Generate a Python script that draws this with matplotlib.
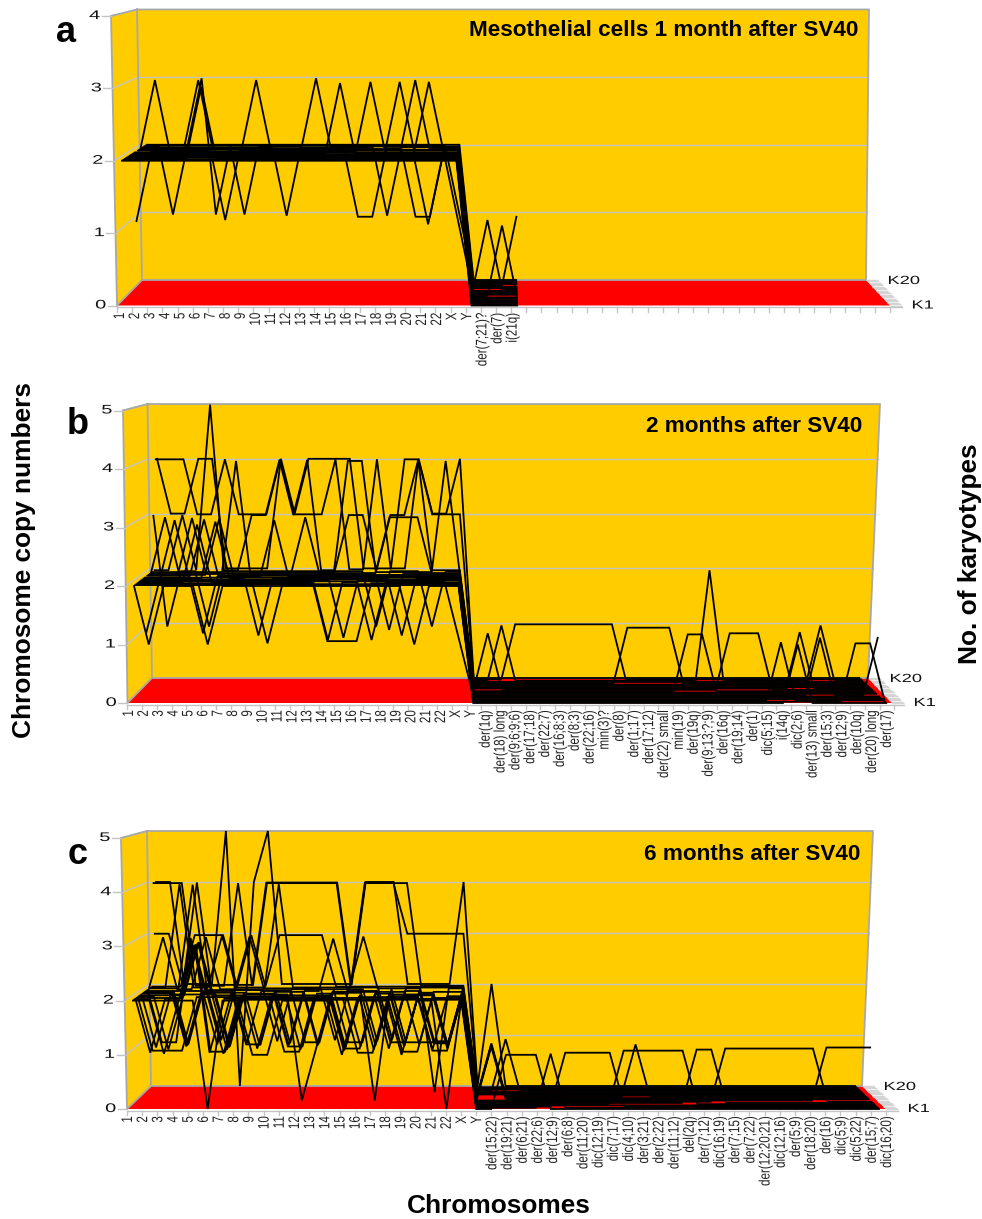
import matplotlib
matplotlib.use("Agg")
import matplotlib.pyplot as plt
from matplotlib.patheffects import AbstractPathEffect
from matplotlib.transforms import Affine2D

# Chromosome columns
base_labels = [str(n) for n in range(1, 23)] + ["X", "Y"]

a_markers = ["der(7;21)?", "der(7)", "i(21q)"]
b_markers = ["der(1q)", "der(18) long", "der(9;6;9;6)", "der(17;18)", "der(22;7)",
             "der(16;8;3)", "der(8;3)", "der(22;16)", "min(3)?", "der(8)", "der(1;17)",
             "der(17;12)", "der(22) small", "min(19)", "der(19q)", "der(9;13;?;9)",
             "der(16q)", "der(19;14)", "der(1)", "dic(5;15)", "i(14q)", "dic(2;6)",
             "der(13) small", "der(15;3)", "der(12;9)", "der(10q)", "der(20) long", "der(17)"]
c_markers = ["der(15;22)", "der(19;21)", "der(6;21)", "der(22;6)", "der(12;9)", "der(6;8)",
             "der(11;20)", "dic(12;19)", "dic(7;17)", "dic(4;10)", "der(3;21)", "der(2;22)",
             "der(11;12)", "del(2q)", "der(7;12)", "dic(16;19)", "der(7;15)", "der(7;22)",
             "der(12;20;21)", "dic(12;16)", "der(5;9)", "der(18;20)", "der(16)", "dic(5;9)",
             "dic(5;22)", "der(15;7)", "dic(16;20)"]

# Copy numbers that differ from the mode: (karyotype, first column, last column, copies)
a_changes = [
    (15, 1, 1, 3), (18, 4, 4, 3), (15, 4, 4, 3), (4, 5, 5, 3), (15, 8, 8, 3), (18, 12, 12, 3),
    (10, 14, 14, 3), (12, 16, 16, 3), (12, 18, 18, 3), (15, 19, 19, 3), (12, 20, 20, 3),
    (12, 0, 0, 1), (18, 2, 2, 1), (18, 5, 5, 1), (13, 6, 6, 1), (18, 7, 7, 1), (17, 10, 10, 1),
    (16, 15, 16, 1), (17, 17, 17, 1), (16, 19, 20, 1), (9, 20, 20, 1), (19, 22, 22, 1), (12, 22, 22, 1),
    (13, 24, 24, 1), (8, 25, 25, 1), (16, 26, 26, 1),
]
b_changes = [
    (19, 0, 2, 4), (19, 3, 4, 3), (19, 5, 5, 4), (19, 6, 8, 3), (19, 9, 9, 4), (19, 10, 12, 3),
    (19, 13, 13, 4), (19, 16, 16, 4), (19, 18, 19, 4), (19, 20, 22, 3), (19, 26, 33, 1),
    (20, 0, 0, 4), (20, 1, 2, 3), (20, 3, 4, 4), (20, 9, 9, 4), (20, 10, 10, 3), (20, 11, 14, 4),
    (20, 19, 19, 4), (20, 20, 21, 3), (20, 22, 22, 4),
    (18, 2, 2, 3), (18, 4, 4, 5), (18, 7, 8, 3), (18, 9, 9, 4), (18, 10, 10, 3), (18, 11, 11, 4),
    (18, 14, 15, 3), (18, 17, 18, 3), (18, 19, 19, 4), (18, 25, 25, 1), (18, 40, 40, 2), (18, 48, 48, 1),
    (17, 0, 0, 3), (17, 1, 1, 1), (17, 4, 4, 1), (17, 16, 16, 1), (17, 20, 20, 1),
    (16, 6, 6, 4), (16, 14, 15, 4), (16, 21, 21, 4), (16, 34, 37, 1),
    (15, 1, 1, 3), (15, 11, 11, 3), (15, 17, 19, 3),
    (14, 3, 3, 3), (14, 17, 17, 1), (13, 5, 5, 3), (12, 4, 4, 3), (12, 46, 46, 1),
    (11, 0, 0, 1), (11, 2, 2, 3), (11, 4, 4, 1), (11, 9, 9, 3), (11, 24, 24, 1), (11, 41, 43, 1),
    (10, 38, 39, 1), (9, 5, 5, 3), (9, 8, 8, 1), (9, 18, 18, 1),
    (7, 14, 14, 1), (7, 47, 47, 1), (7, 51, 51, 1), (6, 22, 22, 1),
    (5, 4, 4, 3), (5, 13, 13, 1), (5, 16, 16, 1), (4, 13, 15, 1), (3, 44, 44, 1),
    (2, 9, 9, 1), (2, 49, 50, 1), (1, 1, 1, 1), (1, 5, 5, 1), (1, 19, 19, 1), (1, 45, 45, 1),
]
c_changes = [
    (20, 0, 1, 4), (20, 5, 5, 5), (20, 6, 6, 0), (20, 7, 7, 4), (20, 8, 8, 5), (20, 15, 17, 4), (20, 22, 22, 4),
    (19, 0, 1, 3), (19, 3, 3, 4), (19, 8, 10, 4), (19, 11, 13, 4), (19, 15, 17, 4), (19, 18, 22, 3),
    (18, 0, 2, 4), (18, 6, 6, 4), (18, 8, 10, 4), (18, 11, 13, 4), (18, 15, 18, 4),
    (17, 3, 3, 3), (17, 4, 5, 3), (17, 7, 7, 3), (17, 9, 12, 3),
    (16, 2, 2, 4), (15, 3, 3, 4), (13, 3, 3, 3), (16, 5, 5, 3), (15, 7, 7, 3), (16, 9, 9, 4),
    (14, 1, 1, 3), (14, 4, 4, 3), (15, 15, 15, 3), (12, 13, 13, 3),
    (3, 4, 4, 3), (6, 4, 4, 3), (7, 4, 4, 3), (4, 4, 4, 3), (2, 4, 4, 3),
    (5, 1, 3, 1), (2, 2, 2, 1), (13, 1, 2, 1), (10, 3, 3, 1), (4, 5, 6, 1), (11, 5, 5, 1), (11, 3, 3, 1),
    (1, 5, 5, 0), (6, 6, 6, 1), (7, 8, 8, 1), (1, 8, 9, 1), (4, 10, 11, 1), (8, 11, 11, 0),
    (13, 11, 12, 1), (11, 7, 8, 1), (7, 14, 15, 1), (13, 14, 15, 1), (1, 14, 14, 1), (3, 16, 16, 1),
    (8, 16, 16, 0), (7, 17, 17, 1), (13, 17, 21, 1), (1, 18, 18, 1), (4, 18, 19, 1), (15, 20, 20, 0),
    (1, 21, 21, 0), (12, 20, 21, 1), (14, 20, 21, 1), (5, 20, 21, 1),
    (2, 6, 6, 1), (3, 5, 5, 1), (8, 6, 6, 1), (9, 6, 6, 1), (10, 10, 10, 1), (9, 10, 11, 1), (6, 11, 11, 1),
    (6, 14, 14, 1), (8, 14, 14, 1), (9, 15, 15, 1), (10, 16, 16, 1), (6, 16, 16, 1), (9, 18, 18, 1),
    (10, 18, 18, 1), (6, 20, 20, 1), (7, 21, 21, 1), (8, 21, 21, 1), (9, 21, 21, 1), (10, 21, 21, 1),
    (3, 1, 1, 1), (6, 2, 2, 1), (8, 1, 1, 1), (9, 3, 3, 1), (11, 12, 12, 1), (10, 12, 12, 1), (8, 12, 12, 1),
    (12, 7, 7, 1), (10, 8, 8, 1), (14, 9, 9, 1), (12, 10, 10, 1), (5, 14, 14, 1), (3, 15, 15, 1), (14, 16, 16, 1),
    (12, 17, 17, 1), (14, 18, 18, 1), (11, 19, 19, 1), (15, 5, 5, 1), (15, 13, 13, 1), (16, 17, 17, 1),
    (20, 24, 24, 2), (11, 24, 24, 1), (9, 24, 24, 1), (10, 24, 24, 1), (12, 24, 24, 1), (16, 25, 25, 1),
    (1, 25, 27, 1), (2, 28, 28, 1), (3, 29, 32, 1), (5, 33, 37, 1), (11, 34, 34, 1),
    (6, 38, 39, 1), (7, 40, 46, 1), (8, 47, 50, 1),
]

# Axis ranges
a_top = 4
b_top = 5
c_top = 5
n_rows = 20

# Panel geometry in figure pixels (back wall, floor corners and the spacing of the columns)
a_box = {"tl": (137, 9.5), "tr": (869, 9.5), "br": (866, 280), "bl": (142, 280),
         "fl": (117, 305.5), "fr": (890, 305.5), "ftop": (111, 16),
         "left": (122, 147), "step": (15.2, 14.2), "tick": 15.16, "lab0": 120, "lab_step": 15.1}
b_box = {"tl": (147.5, 404), "tr": (880, 404), "br": (868, 678), "bl": (152, 678),
         "fl": (127.5, 703), "fr": (892, 703), "ftop": (123, 410.5),
         "left": (134, 157), "step": (14.75, 13.77), "tick": 14.75, "lab0": 129, "lab_step": 14.86}
c_box = {"tl": (147, 831), "tr": (873, 831), "br": (862, 1086), "bl": (151, 1086),
         "fl": (127, 1109), "fr": (886, 1109), "ftop": (121, 838),
         "left": (133, 156), "step": (14.92, 13.98), "tick": 15.18, "lab0": 128, "lab_step": 15.18}

GREY = "#a8a8a8"
GRID = "#c4c4c4"


class Stretch(AbstractPathEffect):
    # The labels of the original are squeezed or widened along the line of text
    def __init__(self, factor, anchor):
        super().__init__()
        self.factor = factor
        self.anchor = anchor

    def draw_path(self, renderer, gc, tpath, affine, rgbFace=None):
        box = tpath.get_extents()
        pin = box.x0 + (box.x1 - box.x0) * self.anchor
        pre = Affine2D().translate(-pin, 0).scale(self.factor, 1).translate(pin, 0)
        renderer.draw_path(gc, tpath, pre + affine, rgbFace)


def lerp(pair, d):
    return pair[0] + (pair[1] - pair[0]) * d


def project(box, row, col, copies, top):
    # row 1 stands at the front of the floor, row 20 against the wall
    d = (row - 1) / (n_rows - 1)
    x = lerp(box["left"], d) + col * lerp(box["step"], d)
    floor = lerp((box["fl"][1], box["bl"][1]), d)
    unit = lerp(((box["fl"][1] - box["ftop"][1]) / top, (box["bl"][1] - box["tl"][1]) / top), d)
    return x, floor - copies * unit


def draw_panel(ax, box, labels, changes, top):
    n_cols = len(labels)
    tl, tr, br, bl, fl, fr, ftop = (box[k] for k in ["tl", "tr", "br", "bl", "fl", "fr", "ftop"])

    # Walls and floor
    ax.fill(*zip(tl, tr, br, bl), color="#ffcc00", lw=0)
    ax.fill(*zip(ftop, tl, bl, fl), color="#ffcc00", lw=0)

    # Grey steps to the right of the floor
    for row in range(1, n_rows + 1):
        d = (row - 1) / (n_rows - 1)
        x0 = fr[0] + (br[0] - fr[0]) * d
        y0 = fr[1] + (br[1] - fr[1]) * d
        ax.plot([x0, x0 + 12], [y0, y0], color="#d4d4d4", lw=1.0, solid_capstyle="butt")

    ax.fill(*zip(bl, br, fr, fl), color="#ff0000", lw=0)

    # Grid
    for v in range(1, top + 1):
        yb = bl[1] + (tl[1] - bl[1]) * v / top
        xb = bl[0] + (tl[0] - bl[0]) * v / top
        xr = br[0] + (tr[0] - br[0]) * v / top
        yf = fl[1] + (ftop[1] - fl[1]) * v / top
        xf = fl[0] + (ftop[0] - fl[0]) * v / top
        if v < top:
            ax.plot([xb, xr], [yb, yb], color=GRID, lw=1.0)
        ax.plot([xf, xb], [yf, yb], color=GRID, lw=1.0)

    # Outline of the box
    ax.plot(*zip(tl, tr, br, bl, tl), color=GREY, lw=1.3)
    ax.plot(*zip(ftop, tl), color=GREY, lw=1.3)
    ax.plot(*zip(ftop, fl, bl), color=GREY, lw=1.3)

    # y axis ticks and numbers
    for v in range(0, top + 1):
        yf = fl[1] + (ftop[1] - fl[1]) * v / top
        xf = fl[0] + (ftop[0] - fl[0]) * v / top
        ax.plot([xf - 9, xf], [yf, yf], color=GRID, lw=1.0)
        ax.text(xf - 11, yf, str(v), ha="right", va="center", fontsize=9, color="#111111",
                path_effects=[Stretch(1.6, 1)])

    # x axis ticks and labels
    ax.plot([fl[0], fr[0] + 12], [fl[1] + 1.5, fl[1] + 1.5], color=GRID, lw=1.0)
    x = fl[0]
    while x <= fr[0] + 6:
        ax.plot([x, x], [fl[1] + 1.5, fl[1] + 6], color=GRID, lw=1.0)
        x += box["tick"]
    for i, lab in enumerate(labels):
        ax.text(box["lab0"] + i * box["lab_step"], fl[1] + 7, lab, rotation=90, ha="center", va="top",
                fontsize=11, color="#222222", path_effects=[Stretch(0.76, 1)])

    # One black line per karyotype
    for row in range(n_rows, 0, -1):
        copies = [2 if c < 23 else 0 for c in range(n_cols)]
        for r, first, last, value in changes:
            if r == row:
                for c in range(first, last + 1):
                    copies[c] = value
        pts = [project(box, row, c, copies[c], top) for c in range(n_cols)]
        ax.plot([p[0] for p in pts], [p[1] for p in pts], color="black", lw=1.3, solid_joinstyle="miter")

    ax.text(br[0] + 22, br[1] + 1, "K20", ha="left", va="center", fontsize=8.5, color="#111111",
            path_effects=[Stretch(1.55, 0)])
    ax.text(fr[0] + 22, fr[1], "K1", ha="left", va="center", fontsize=8.5, color="#111111",
            path_effects=[Stretch(1.55, 0)])


plt.rcParams["font.family"] = "Liberation Sans"

fig = plt.figure(figsize=(9.82, 12.19), dpi=100)
ax = fig.add_axes([0, 0, 1, 1])
ax.set_xlim(0, 982)
ax.set_ylim(1219, 0)
ax.axis("off")

draw_panel(ax, a_box, base_labels + a_markers, a_changes, a_top)
draw_panel(ax, b_box, base_labels + b_markers, b_changes, b_top)
draw_panel(ax, c_box, base_labels + c_markers, c_changes, c_top)

# Panel letters and titles
ax.text(66, 33, "a", fontsize=26, fontweight="bold", ha="center", va="center")
ax.text(78, 425, "b", fontsize=26, fontweight="bold", ha="center", va="center")
ax.text(78, 855, "c", fontsize=26, fontweight="bold", ha="center", va="center")
ax.text(858, 31, "Mesothelial cells 1 month after SV40", fontsize=16.2, fontweight="bold", ha="right", va="center")
ax.text(862, 426, "2 months after SV40", fontsize=16.2, fontweight="bold", ha="right", va="center")
ax.text(860, 855, "6 months after SV40", fontsize=16.2, fontweight="bold", ha="right", va="center")

# Axis names
ax.text(24, 560, "Chromosome copy numbers", fontsize=18.9, fontweight="bold", rotation=90, ha="center", va="center")
ax.text(970, 554, "No. of karyotypes", fontsize=18.9, fontweight="bold", rotation=90, ha="center", va="center")
ax.text(499, 1206, "Chromosomes", fontsize=18.9, fontweight="bold", ha="center", va="center")

fig.savefig("out.png", dpi=100)
